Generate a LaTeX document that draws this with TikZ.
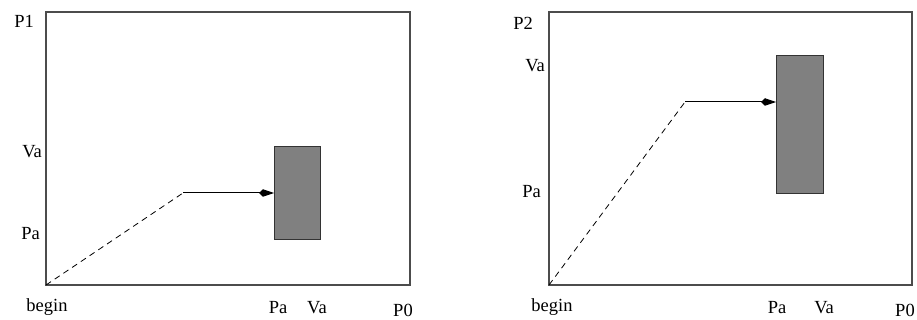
\documentclass[tikz,border=0pt]{standalone}
\usepackage{fontspec}
\setmainfont{Liberation Serif}
\usetikzlibrary{arrows.meta}
\begin{document}
\begin{tikzpicture}[x=1pt,y=-1pt,
  frame/.style={draw=black!70,line width=1.2pt},
  bar/.style={draw=black!80,fill=black!50,line width=1pt,inner sep=0pt,outer sep=0pt},
  lbl/.style={font=\fontsize{18.5}{18.5}\selectfont,inner sep=0pt,anchor=base},
  ylbl/.style={lbl,anchor=base east},
  path1/.style={dash pattern=on 6pt off 4.5pt,line width=0.8pt},
  move/.style={line width=1pt,-{Kite[length=15pt,width=7.5pt,inset=4pt]}}]
\useasboundingbox (0,0) rectangle (917,320);

% left chart
\draw[frame] (46,12) rectangle (410,285);
\coordinate (originL) at (46,285);
\coordinate (kneeL) at (183,193);
\node[bar,minimum width=46pt,minimum height=92pt] (barL) at (297,193) {};
\draw[path1] (originL) -- (kneeL);
\draw[move] (kneeL) -- (barL.west);
\node[ylbl] (p1) at (34,28) {P1};
\node[ylbl] (vaL) at (42,158) {Va};
\node[ylbl] (paL) at (40,240) {Pa};
\node[lbl] (beginL) at (47,311) {begin};
\node[lbl] (paLx) at (278,313) {Pa};
\node[lbl] (vaLx) at (317,313) {Va};
\node[lbl] (p0L) at (403,316.5) {P0};

% right chart
\draw[frame] (549,12) rectangle (912,285);
\coordinate (originR) at (549,285);
\coordinate (kneeR) at (685,102);
\node[bar,minimum width=47pt,minimum height=138pt] (barR) at (799.5,125) {};
\draw[path1] (originR) -- (kneeR);
\draw[move] (kneeR) -- (barR.west |- kneeR);
\node[ylbl] (p2) at (533,30) {P2};
\node[ylbl] (vaR) at (545,72) {Va};
\node[ylbl] (paR) at (541,198) {Pa};
\node[lbl] (beginR) at (552,311) {begin};
\node[lbl] (paRx) at (777,313) {Pa};
\node[lbl] (vaRx) at (824,313) {Va};
\node[lbl] (p0R) at (905,316.5) {P0};
\end{tikzpicture}
\end{document}
